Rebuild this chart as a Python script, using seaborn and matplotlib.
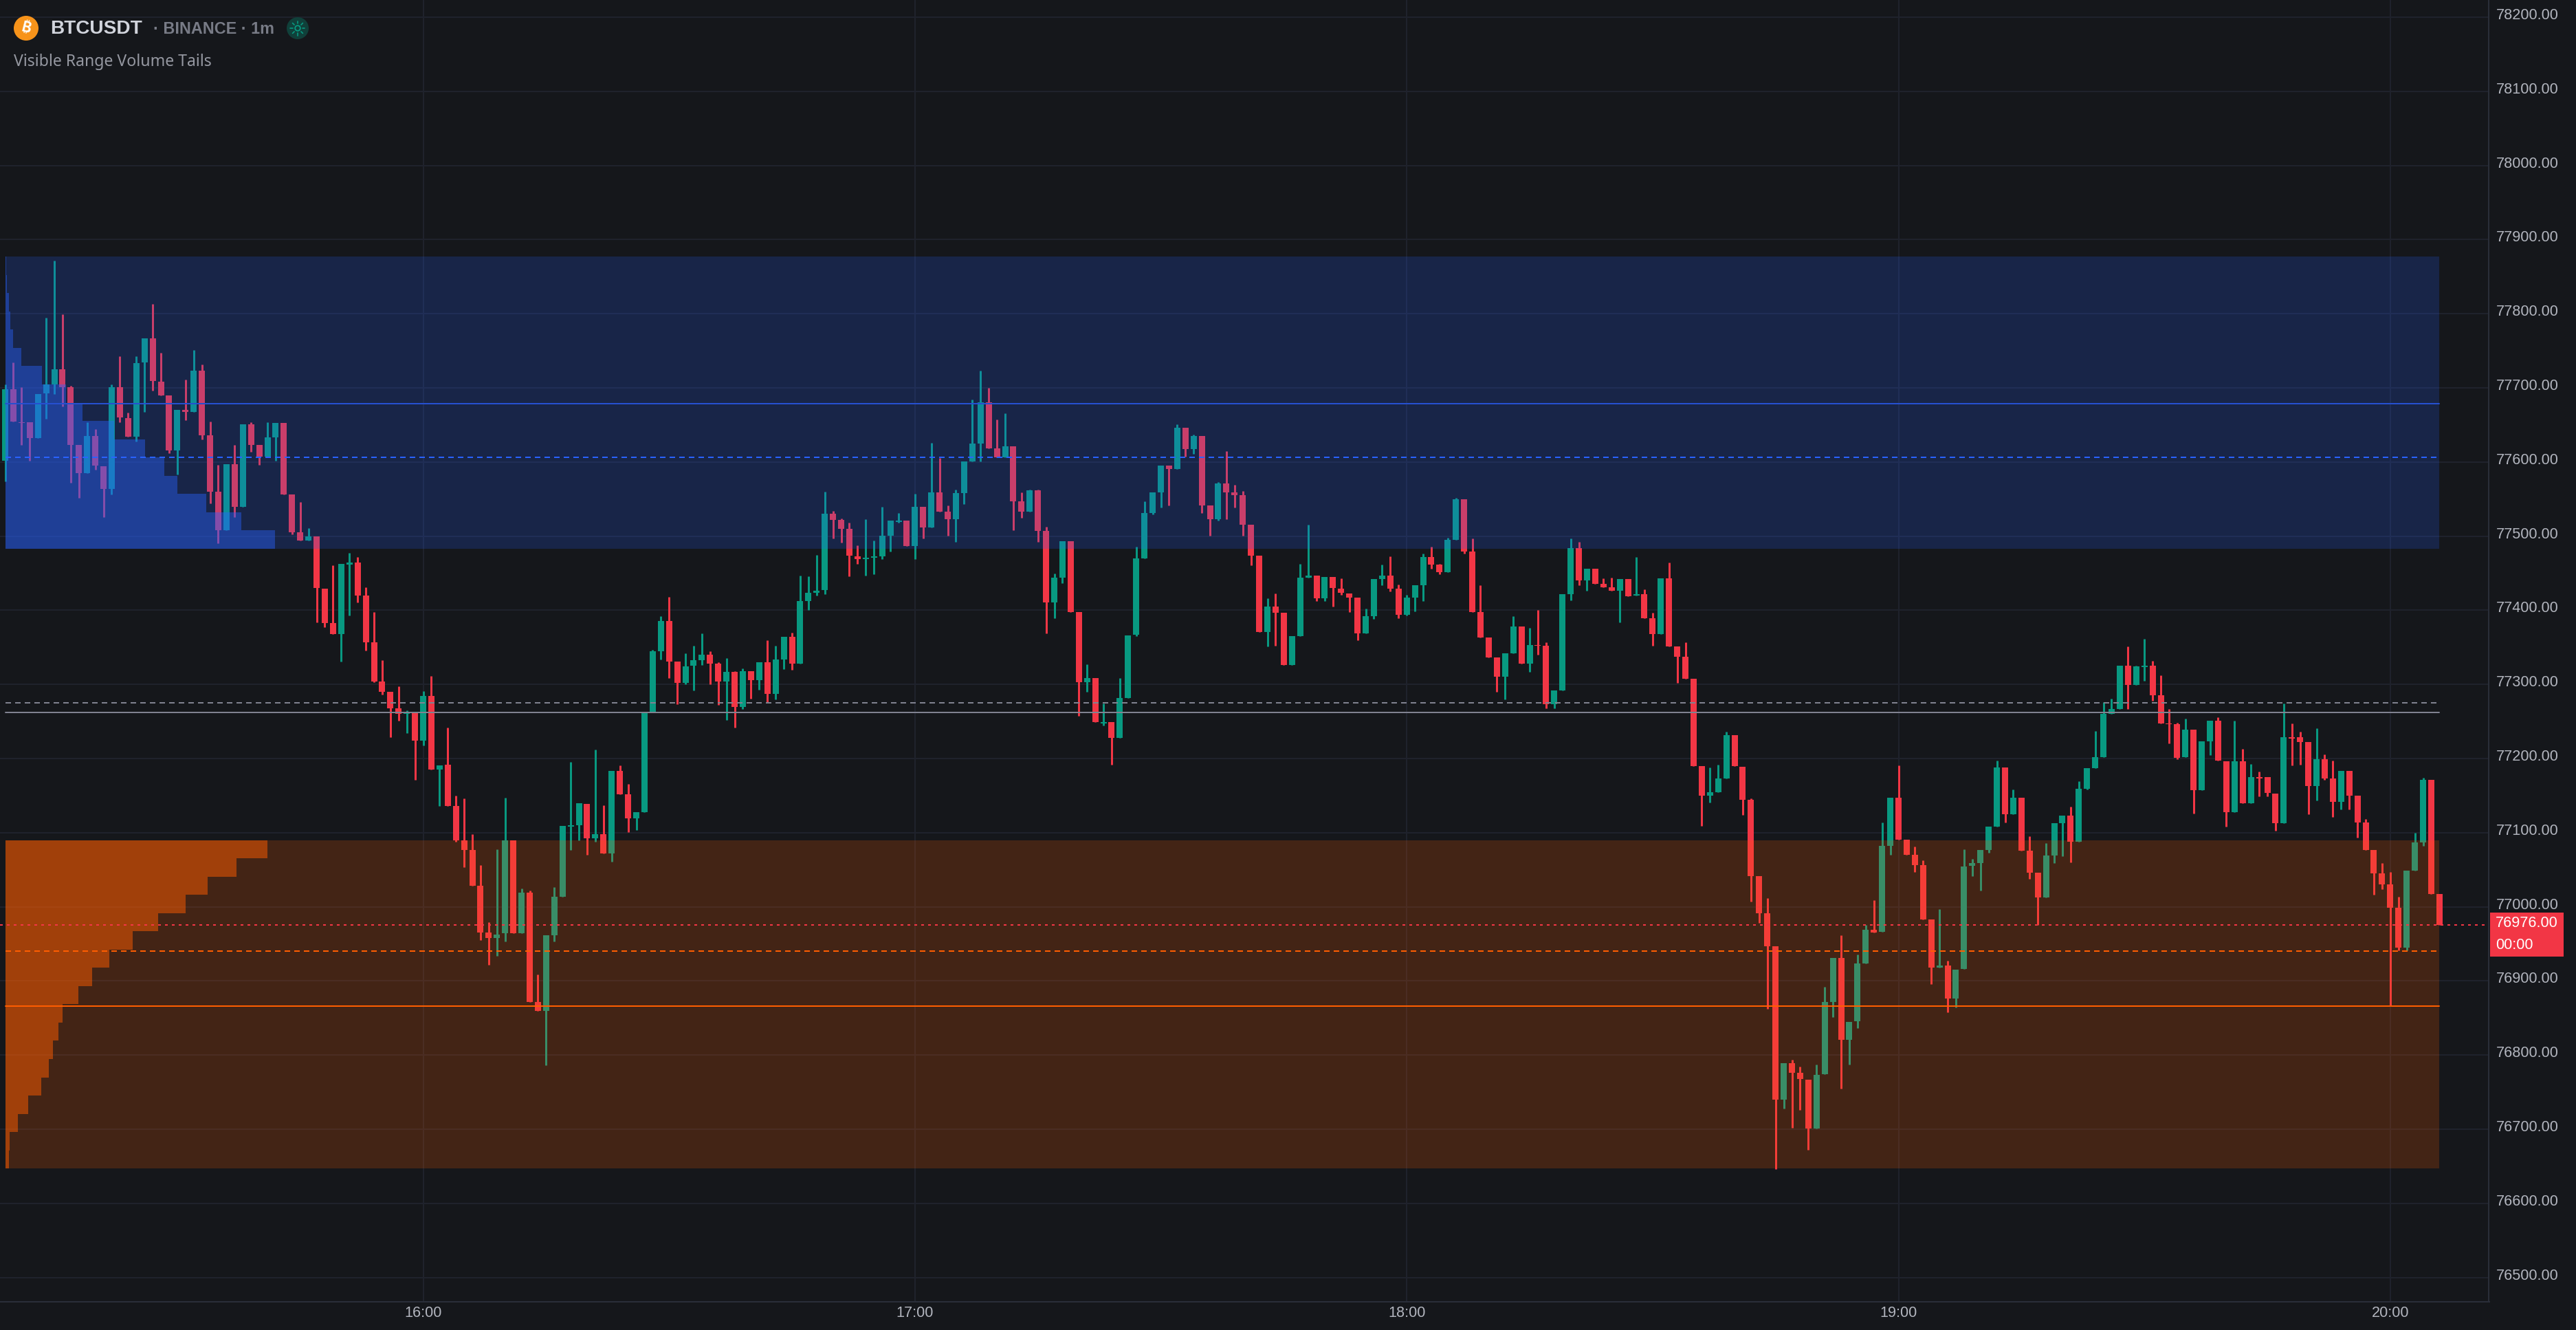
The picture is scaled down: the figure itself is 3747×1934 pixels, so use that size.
#!/usr/bin/env python3
# BTCUSDT 1m candles with visible range volume tails
import numpy as np
import matplotlib
matplotlib.use("Agg")
import matplotlib.pyplot as plt
from matplotlib.patches import Circle, Rectangle
from matplotlib.transforms import ScaledTranslation
import seaborn as sns

opens = [
    77602, 77698, 77654, 77654, 77632, 77693, 77705, 77725, 77701, 77623,
    77585, 77635, 77594, 77564, 77701, 77659, 77634, 77734, 77767, 77708,
    77690, 77616, 77670, 77668, 77723, 77636, 77560, 77508, 77597, 77540,
    77651, 77623, 77607, 77633, 77653, 77556, 77505, 77494, 77500, 77429,
    77383, 77368, 77462, 77464, 77420, 77357, 77304, 77290, 77268, 77260,
    77261, 77224, 77284, 77185, 77192, 77136, 77090, 77077, 77028, 76965,
    76958, 76964, 77090, 76964, 77019, 76872, 76860, 76962, 77014, 77108,
    77110, 77139, 77092, 77098, 77072, 77183, 77152, 77119, 77128, 77262,
    77345, 77386, 77331, 77302, 77325, 77333, 77340, 77328, 77304, 77317,
    77270, 77318, 77306, 77330, 77287, 77334, 77364, 77328, 77412, 77424,
    77427, 77530, 77522, 77510, 77473, 77469, 77471, 77473, 77501, 77519,
    77521, 77487, 77540, 77512, 77559, 77533, 77523, 77558, 77601, 77625,
    77681, 77618, 77606, 77621, 77547, 77533, 77562, 77507, 77411, 77444,
    77493, 77398, 77303, 77309, 77247, 77249, 77228, 77282, 77367, 77470,
    77531, 77559, 77595, 77591, 77646, 77617, 77635, 77541, 77523, 77571,
    77559, 77555, 77515, 77474, 77371, 77405, 77397, 77326, 77365, 77444,
    77447, 77416, 77445, 77429, 77423, 77417, 77369, 77392, 77442, 77447,
    77429, 77394, 77417, 77434, 77472, 77462, 77451, 77495, 77550, 77479,
    77398, 77363, 77336, 77310, 77342, 77378, 77328, 77353, 77352, 77273,
    77292, 77422, 77484, 77440, 77456, 77436, 77431, 77426, 77442, 77420,
    77422, 77389, 77368, 77443, 77351, 77337, 77308, 77190, 77150, 77155,
    77173, 77232, 77189, 77144, 77041, 76991, 76947, 76740, 76789, 76776,
    76767, 76701, 76774, 76872, 76931, 76821, 76846, 76924, 76969, 76966,
    77082, 77147, 77091, 77070, 77056, 76983, 76918, 76921, 76876, 76916,
    77055, 77059, 77077, 77108, 77188, 77125, 77147, 77076, 77046, 77013,
    77069, 77113, 77123, 77088, 77159, 77187, 77202, 77260, 77267, 77325,
    77299, 77323, 77325, 77285, 77247, 77246, 77202, 77239, 77157, 77223,
    77251, 77196, 77128, 77196, 77140, 77175, 77175, 77153, 77113, 77229,
    77229, 77222, 77163, 77199, 77173, 77142, 77183, 77150, 77114, 77077,
    77045, 77030, 76999, 76945, 77049, 77087, 77171, 77017,
]
closes = [
    77698, 77655, 77653, 77632, 77692, 77705, 77725, 77701, 77623, 77585,
    77635, 77595, 77564, 77701, 77660, 77634, 77733, 77767, 77709, 77690,
    77616, 77670, 77668, 77723, 77636, 77560, 77508, 77597, 77540, 77651,
    77623, 77607, 77633, 77653, 77556, 77505, 77494, 77500, 77430, 77383,
    77368, 77463, 77464, 77420, 77357, 77304, 77290, 77268, 77260, 77261,
    77224, 77284, 77185, 77191, 77136, 77090, 77077, 77028, 76965, 76958,
    76963, 77090, 76964, 77019, 76872, 76860, 76962, 77014, 77109, 77110,
    77140, 77092, 77098, 77072, 77183, 77152, 77119, 77128, 77262, 77345,
    77386, 77331, 77302, 77324, 77333, 77340, 77328, 77304, 77317, 77270,
    77318, 77306, 77330, 77287, 77334, 77364, 77328, 77412, 77424, 77426,
    77530, 77522, 77510, 77474, 77469, 77471, 77473, 77501, 77521, 77521,
    77487, 77540, 77512, 77559, 77533, 77523, 77558, 77601, 77625, 77681,
    77618, 77606, 77621, 77547, 77533, 77562, 77507, 77411, 77444, 77493,
    77398, 77303, 77309, 77249, 77249, 77228, 77282, 77366, 77470, 77531,
    77559, 77595, 77591, 77646, 77617, 77635, 77541, 77523, 77571, 77559,
    77555, 77515, 77474, 77371, 77405, 77397, 77326, 77365, 77444, 77447,
    77416, 77445, 77430, 77424, 77417, 77369, 77392, 77442, 77447, 77429,
    77394, 77417, 77434, 77472, 77462, 77451, 77495, 77550, 77479, 77398,
    77363, 77336, 77310, 77342, 77378, 77328, 77353, 77352, 77273, 77292,
    77422, 77484, 77440, 77456, 77436, 77431, 77426, 77442, 77419, 77422,
    77389, 77368, 77443, 77351, 77337, 77308, 77190, 77150, 77155, 77173,
    77232, 77190, 77144, 77041, 76991, 76947, 76740, 76789, 76776, 76768,
    76701, 76773, 76872, 76931, 76821, 76845, 76924, 76969, 76965, 77082,
    77147, 77091, 77070, 77056, 76983, 76918, 76921, 76876, 76915, 77054,
    77059, 77077, 77108, 77188, 77125, 77147, 77076, 77046, 77013, 77069,
    77113, 77123, 77088, 77159, 77187, 77202, 77260, 77267, 77325, 77299,
    77324, 77325, 77285, 77247, 77246, 77201, 77239, 77157, 77223, 77251,
    77197, 77128, 77196, 77140, 77175, 77173, 77154, 77113, 77229, 77227,
    77222, 77163, 77199, 77173, 77142, 77183, 77150, 77114, 77077, 77045,
    77030, 76999, 76945, 77049, 77087, 77171, 77017, 76976,
]
highs = [
    77705, 77734, 77701, 77654, 77692, 77795, 77872, 77799, 77703, 77623,
    77654, 77644, 77594, 77705, 77743, 77667, 77743, 77767, 77813, 77747,
    77690, 77670, 77711, 77751, 77732, 77655, 77596, 77597, 77623, 77651,
    77654, 77623, 77654, 77653, 77653, 77556, 77546, 77511, 77500, 77429,
    77461, 77463, 77477, 77472, 77431, 77398, 77333, 77290, 77297, 77265,
    77261, 77291, 77311, 77191, 77242, 77150, 77146, 77098, 77056, 76979,
    77078, 77147, 77090, 77025, 77022, 76909, 76962, 77027, 77109, 77195,
    77140, 77139, 77212, 77137, 77183, 77191, 77166, 77128, 77262, 77347,
    77392, 77418, 77331, 77342, 77352, 77369, 77345, 77330, 77335, 77318,
    77322, 77318, 77330, 77360, 77352, 77364, 77370, 77447, 77446, 77475,
    77560, 77534, 77524, 77518, 77488, 77523, 77494, 77540, 77521, 77531,
    77521, 77557, 77540, 77626, 77605, 77541, 77563, 77601, 77684, 77723,
    77700, 77657, 77666, 77621, 77559, 77563, 77563, 77513, 77450, 77493,
    77493, 77398, 77327, 77309, 77274, 77249, 77309, 77366, 77486, 77547,
    77559, 77595, 77595, 77651, 77646, 77637, 77635, 77541, 77573, 77615,
    77569, 77561, 77515, 77474, 77416, 77423, 77397, 77365, 77463, 77515,
    77447, 77445, 77445, 77443, 77423, 77417, 77402, 77442, 77462, 77473,
    77435, 77421, 77434, 77476, 77486, 77463, 77498, 77552, 77550, 77497,
    77434, 77363, 77336, 77342, 77392, 77378, 77376, 77400, 77357, 77292,
    77422, 77497, 77492, 77456, 77456, 77443, 77444, 77442, 77442, 77472,
    77428, 77397, 77443, 77464, 77351, 77357, 77308, 77190, 77188, 77192,
    77236, 77232, 77189, 77146, 77041, 77012, 76947, 76789, 76794, 76784,
    76767, 76787, 76892, 76931, 76962, 76845, 76936, 76976, 77009, 77114,
    77147, 77191, 77091, 77081, 77063, 76983, 76997, 76927, 76915, 77078,
    77065, 77077, 77108, 77197, 77188, 77158, 77147, 77095, 77046, 77086,
    77113, 77123, 77135, 77169, 77187, 77237, 77276, 77281, 77325, 77351,
    77325, 77361, 77332, 77312, 77267, 77248, 77254, 77239, 77223, 77251,
    77256, 77196, 77251, 77213, 77193, 77182, 77175, 77153, 77274, 77247,
    77236, 77222, 77241, 77206, 77197, 77183, 77183, 77150, 77118, 77077,
    77059, 77047, 77014, 77049, 77100, 77174, 77171, 77017,
]
lows = [
    77574, 77655, 77623, 77602, 77632, 77658, 77692, 77675, 77572, 77552,
    77585, 77590, 77526, 77556, 77654, 77634, 77628, 77668, 77696, 77690,
    77612, 77583, 77656, 77668, 77630, 77544, 77490, 77508, 77526, 77540,
    77614, 77596, 77607, 77602, 77556, 77502, 77494, 77494, 77384, 77377,
    77368, 77331, 77393, 77411, 77346, 77303, 77286, 77229, 77251, 77234,
    77171, 77218, 77185, 77136, 77136, 77088, 77053, 77028, 76955, 76922,
    76934, 76953, 76964, 76964, 76872, 76860, 76786, 76953, 77014, 77077,
    77090, 77070, 77088, 77072, 77061, 77152, 77101, 77104, 77128, 77262,
    77334, 77309, 77273, 77300, 77292, 77326, 77300, 77272, 77252, 77242,
    77267, 77281, 77293, 77276, 77280, 77321, 77320, 77328, 77400, 77420,
    77422, 77497, 77491, 77446, 77463, 77447, 77449, 77469, 77479, 77518,
    77487, 77469, 77497, 77512, 77533, 77501, 77492, 77543, 77601, 77601,
    77618, 77606, 77606, 77508, 77525, 77533, 77492, 77369, 77389, 77437,
    77398, 77258, 77290, 77249, 77245, 77192, 77228, 77282, 77365, 77470,
    77529, 77539, 77541, 77591, 77607, 77611, 77531, 77501, 77521, 77523,
    77539, 77501, 77461, 77371, 77351, 77352, 77326, 77326, 77365, 77444,
    77412, 77412, 77405, 77421, 77398, 77360, 77369, 77388, 77434, 77425,
    77389, 77393, 77399, 77412, 77456, 77449, 77451, 77495, 77476, 77398,
    77363, 77336, 77290, 77280, 77342, 77328, 77317, 77340, 77268, 77268,
    77292, 77413, 77434, 77426, 77436, 77431, 77426, 77384, 77419, 77420,
    77389, 77352, 77368, 77351, 77302, 77308, 77190, 77109, 77141, 77155,
    77173, 77190, 77124, 77007, 76978, 76862, 76646, 76728, 76702, 76726,
    76672, 76701, 76774, 76851, 76755, 76787, 76836, 76924, 76965, 76966,
    77070, 77091, 77070, 77047, 76983, 76896, 76918, 76858, 76864, 76916,
    77041, 77022, 77073, 77108, 77114, 77125, 77076, 77038, 76976, 77013,
    77059, 77068, 77060, 77088, 77158, 77187, 77202, 77260, 77267, 77267,
    77299, 77305, 77278, 77247, 77220, 77199, 77202, 77126, 77157, 77205,
    77197, 77108, 77128, 77140, 77140, 77149, 77149, 77103, 77113, 77191,
    77192, 77125, 77143, 77171, 77121, 77131, 77131, 77093, 77077, 77016,
    77024, 76866, 76941, 76941, 77049, 77082, 77017, 76976,
]

# volume tail profiles, top row first, length in candle widths
upper_tail = [0.1, 0.2, 0.43, 0.66, 0.96, 2.0, 4.45, 7.4, 9.4, 13.3, 17.1, 19.4, 21.0, 24.5, 28.8, 32.9]
lower_tail = [32.0, 28.2, 24.7, 22.0, 18.7, 15.6, 12.7, 10.6, 8.9, 7.0, 6.5, 5.8, 5.3, 4.4, 2.85, 1.54, 0.56, 0.42]

upper_zone = [77483, 77877]
lower_zone = [76647, 77090]
upper_levels = [77679, 77606]
middle_levels = [77262, 77275]
lower_levels = [76866, 76940]
last_price = 76976

price_ticks = [76500, 76600, 76700, 76800, 76900, 77000, 77100, 77200, 77300, 77400, 77500,
               77600, 77700, 77800, 77900, 78000, 78100, 78200]
hour_ticks = [51, 111, 171, 231, 291]
hour_labels = ["16:00", "17:00", "18:00", "19:00", "20:00"]

BG = "#15171B"
UP = "#089981"
DOWN = "#F23645"
BLUE = "#2962FF"
ORANGE = "#FF5D00"
GREY = "#808290"
TEXT = "#B2B5BE"

sns.set_theme(style="dark", rc={
    "figure.facecolor": BG,
    "axes.facecolor": BG,
    "savefig.facecolor": BG,
    "lines.scale_dashes": False,
})
plt.rcParams["font.family"] = ["Liberation Sans", "DejaVu Sans"]

W, H = 3748, 1934
fig = plt.figure(figsize=(W / 100, H / 100), dpi=100)
ax = fig.add_axes([0, 41 / H, 3620.5 / W, 1893 / H])

x = np.arange(len(opens))
o, c, hi, lo = map(np.array, (opens, closes, highs, lows))
colors = [UP if b >= a else DOWN for a, b in zip(o, c)]
first, last = x[0], x[-1]

# candles
ax.vlines(x, lo, hi, colors=colors, linewidth=2.16, zorder=3)
ax.bar(x, np.maximum(np.abs(c - o), 1), bottom=np.minimum(o, c), width=0.755, color=colors, linewidth=0, zorder=3)

# zones and their volume tails sit over the candles
for zone, tail, col, strength in [(upper_zone, upper_tail, BLUE, 0.43), (lower_zone, lower_tail, ORANGE, 0.5)]:
    ax.barh(zone[0], last - first, height=zone[1] - zone[0], left=first, align="edge",
            color=col, alpha=0.2, linewidth=0, zorder=4)
    edges = np.linspace(zone[1], zone[0], len(tail) + 1)
    ax.barh(edges[1:], tail, height=edges[0] - edges[1], left=first, align="edge",
            color=col, alpha=strength, linewidth=0, zorder=5)

# levels
dash = (0, (5.76, 4.32))
dots = (0, (2.9, 4.3))
for level, col, style in [(upper_levels[0], "#2650D0", "-"), (upper_levels[1], BLUE, dash),
                          (middle_levels[0], GREY, "-"), (middle_levels[1], GREY, dash),
                          (lower_levels[0], ORANGE, "-"), (lower_levels[1], ORANGE, dash)]:
    sns.lineplot(x=[first, last], y=[level, level], color=col, linewidth=1.44, linestyle=style,
                 ax=ax, legend=False, errorbar=None, zorder=6)
sns.lineplot(x=[-0.63, 302.5], y=[last_price, last_price], color=DOWN, linewidth=1.44, linestyle=dots,
             ax=ax, legend=False, errorbar=None, zorder=6)

ax.set_xlim(-0.63, 303.05)
ax.set_ylim(76467.2, 78223.2)
ax.set_xticks(hour_ticks, hour_labels)
ax.set_yticks(price_ticks, [f"{p:.2f}" for p in price_ticks])
ax.yaxis.tick_right()
ax.tick_params(axis="both", length=0, labelsize=15.6, labelcolor=TEXT)
ax.tick_params(axis="y", pad=7.6)
ax.tick_params(axis="x", pad=4.5)
ax.set_xlabel("")
ax.set_ylabel("")
ax.set_axisbelow(True)
ax.grid(True, color="#1F222C", linewidth=1.44)
for side in ["top", "left"]:
    ax.spines[side].set_visible(False)
for side in ["right", "bottom"]:
    ax.spines[side].set_color("#2A2E39")
    ax.spines[side].set_linewidth(1.44)

# price labels ride a little above their grid lines
nudge = ScaledTranslation(0, 5 / 100, fig.dpi_scale_trans)
for label in ax.get_yticklabels():
    label.set_transform(label.get_transform() + nudge)

# header and price label live on a pixel overlay
hud = fig.add_axes([0, 0, 1, 1], facecolor="none")
hud.set_xlim(0, W)
hud.set_ylim(H, 0)
hud.axis("off")

hud.add_patch(Circle((38, 41), 18, color="#F7931A", linewidth=0))
hud.text(38, 41, "\u20bf", family=["Inter", "Noto Sans", "Roboto", "Open Sans", "Lato", "DejaVu Sans"],
         weight="bold", fontsize=15, color="white", rotation=-14, ha="center", va="center")
hud.text(73, 49, "BTCUSDT", weight="bold", fontsize=20.2, color="#D1D4DC", va="baseline")
hud.text(223, 49, "\u00b7 BINANCE \u00b7 1m", weight="bold", fontsize=16.8, color="#787B86", va="baseline")
hud.text(20, 96.5, "Visible Range Volume Tails", family="Noto Sans", weight="medium", fontsize=16.6,
         color="#9598A1", va="baseline")

# market status icon
hud.add_patch(Circle((433, 41), 16, color="#10403A", linewidth=0))
hud.add_patch(Circle((433, 41), 3.8, facecolor="none", edgecolor=UP, linewidth=1.3))
for a in np.arange(8) * np.pi / 4:
    hud.plot([433 + 7 * np.cos(a), 433 + 10.5 * np.cos(a)], [41 + 7 * np.sin(a), 41 + 10.5 * np.sin(a)],
             color=UP, linewidth=1.2)

hud.add_patch(Rectangle((3622, 1327), 107, 63.5, color=DOWN, linewidth=0))
hud.text(3630, 1348, f"{last_price:.2f}", fontsize=15.6, color="white", va="baseline")
hud.text(3630, 1380, "00:00", fontsize=15.6, color="white", va="baseline")

fig.savefig("out.png", dpi=100)
